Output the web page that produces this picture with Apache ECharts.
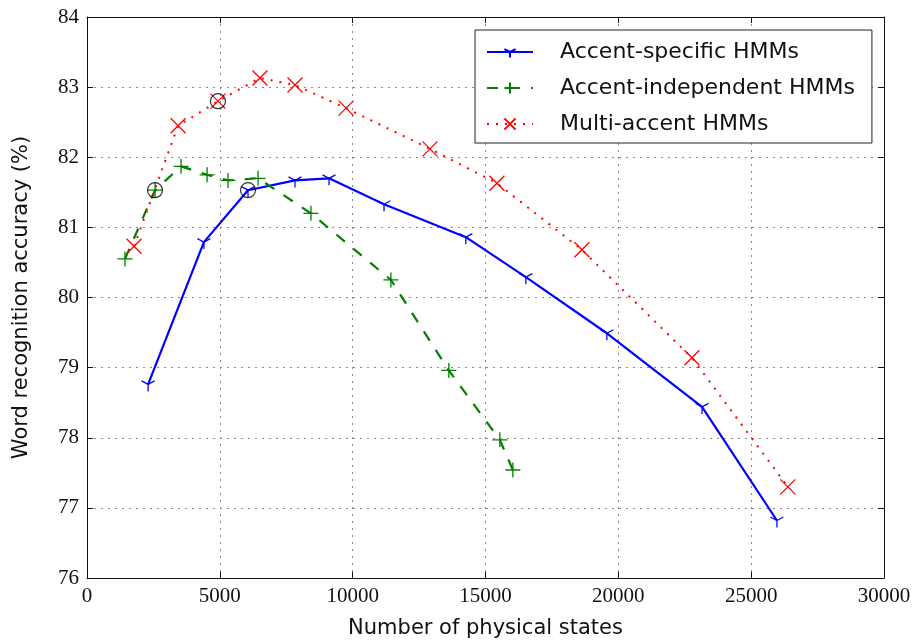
<!DOCTYPE html>
<html>
<head>
<meta charset="utf-8">
<script src="https://cdn.jsdelivr.net/npm/echarts@6/dist/echarts.min.js"></script>
<style>html,body{margin:0;padding:0;background:#fff}#c{width:919px;height:644px}</style>
</head>
<body>
<div id="c"></div>
<script>
// Data
const seriesNames = ['Accent-specific HMMs', 'Accent-independent HMMs', 'Multi-accent HMMs'];
const specificX = [2300, 4400, 6060, 7830, 9110, 11180, 14260, 16520, 19570, 23150, 25970];
const specificY = [78.76, 80.79, 81.53, 81.67, 81.70, 81.33, 80.86, 80.29, 79.49, 78.44, 76.82];
const independentX = [1430, 2560, 3540, 4520, 5310, 6440, 8430, 11440, 13620, 15540, 16030];
const independentY = [80.55, 81.53, 81.87, 81.75, 81.67, 81.70, 81.20, 80.25, 78.96, 77.97, 77.54];
const multiX = [1770, 3430, 4930, 6510, 7830, 9750, 12910, 15430, 18630, 22770, 26380];
const multiY = [80.73, 82.45, 82.80, 83.13, 83.03, 82.70, 82.12, 81.63, 80.68, 79.14, 77.30];
const circledX = [2560, 4930, 6060];
const circledY = [81.53, 82.80, 81.53];
const xTicks = [0, 5000, 10000, 15000, 20000, 25000, 30000];
const yTicks = [76, 77, 78, 79, 80, 81, 82, 83, 84];

const zip = (xs, ys) => xs.map((x, i) => [x, ys[i]]);
const serif = 'Liberation Serif';
const sans = 'DejaVu Sans';

const triDown = 'path://M0,-1 M0,0 L0,1 M0,0 L-0.866,-0.5 M0,0 L0.866,-0.5';
const plusSym = 'path://M-1,0 L1,0 M0,-1 L0,1';
const xSym = 'path://M-1,-1 L1,1 M-1,1 L1,-1';

const gridLine = {show: true, lineStyle: {color: '#888', type: [2, 5], width: 1}};
const chart = echarts.init(document.getElementById('c'), null, {renderer: 'canvas'});
chart.setOption({
  animation: false,
  backgroundColor: '#fff',
  grid: {left: 87, right: 35, top: 17, bottom: 66},
  legend: {
    orient: 'vertical', left: 475, top: 30,
    data: seriesNames,
    itemWidth: 46, itemHeight: 14, itemGap: 14,
    padding: [11, 17, 8, 11],
    borderColor: '#222', borderWidth: 1, borderRadius: 0,
    backgroundColor: '#fff',
    textStyle: {fontFamily: sans, fontSize: 22, color: '#111', padding: [0, 0, 0, 22]}
  },
  xAxis: [{
    type: 'value', min: 0, max: 30000, interval: 5000,
    name: 'Number of physical states', nameLocation: 'middle', nameGap: 40,
    nameTextStyle: {fontFamily: sans, fontSize: 21, color: '#111'},
    axisLine: {show: true, onZero: false, lineStyle: {color: '#111', width: 1}},
    axisTick: {show: true, inside: true, length: 6, lineStyle: {color: '#111'}},
    axisLabel: {fontFamily: serif, fontSize: 21, color: '#111', margin: 8, formatter: v => String(v)},
    splitLine: gridLine
  }, {
    type: 'value', position: 'top', min: 0, max: 30000, interval: 5000,
    axisLine: {show: true, onZero: false, lineStyle: {color: '#111', width: 1}},
    axisTick: {show: true, inside: true, length: 6, lineStyle: {color: '#111'}},
    axisLabel: {show: false}, splitLine: {show: false}
  }],
  yAxis: [{
    type: 'value', min: 76, max: 84, interval: 1,
    name: 'Word recognition accuracy (%)', nameLocation: 'middle', nameGap: 55,
    nameTextStyle: {fontFamily: sans, fontSize: 21, color: '#111'},
    axisLine: {show: true, onZero: false, lineStyle: {color: '#111', width: 1}},
    axisTick: {show: true, inside: true, length: 6, lineStyle: {color: '#111'}},
    axisLabel: {fontFamily: serif, fontSize: 21, color: '#111', margin: 8},
    splitLine: gridLine
  }, {
    type: 'value', position: 'right', min: 76, max: 84, interval: 1,
    axisLine: {show: true, onZero: false, lineStyle: {color: '#111', width: 1}},
    axisTick: {show: true, inside: true, length: 6, lineStyle: {color: '#111'}},
    axisLabel: {show: false}, splitLine: {show: false}
  }],
  series: [{
    name: seriesNames[0], type: 'line', data: zip(specificX, specificY),
    symbol: triDown, symbolSize: [13, 14],
    lineStyle: {color: '#0000ff', width: 2.2},
    itemStyle: {color: 'none', borderColor: '#0000ff', borderWidth: 1.3},
    z: 3
  }, {
    name: seriesNames[1], type: 'line', data: zip(independentX, independentY),
    symbol: plusSym, symbolSize: 15,
    lineStyle: {color: '#008000', width: 2.2, type: [11, 11]},
    itemStyle: {color: 'none', borderColor: '#008000', borderWidth: 1.3},
    z: 3
  }, {
    name: seriesNames[2], type: 'line', data: zip(multiX, multiY),
    symbol: xSym, symbolSize: 15,
    lineStyle: {color: '#ff0000', width: 2, type: [2, 7]},
    itemStyle: {color: 'none', borderColor: '#ff0000', borderWidth: 1.3},
    z: 3
  }, {
    name: 'circled', type: 'scatter', data: zip(circledX, circledY),
    symbol: 'circle', symbolSize: 15,
    itemStyle: {color: 'none', borderColor: '#000', borderWidth: 1.2},
    z: 5, silent: true
  }]
});
</script>
</body>
</html>
